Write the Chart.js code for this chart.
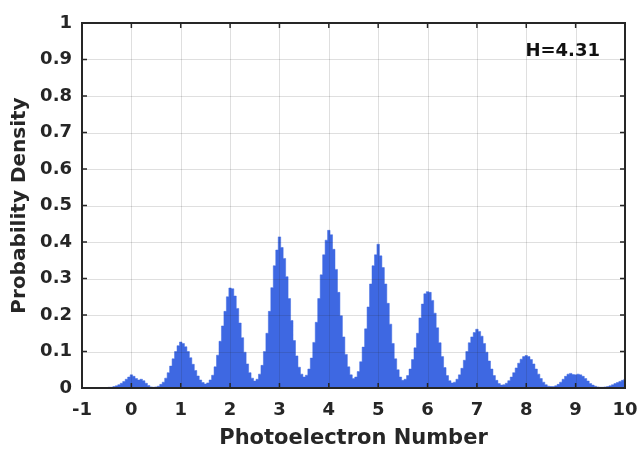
<!DOCTYPE html>
<html>
<head>
<meta charset="utf-8">
<title>Photoelectron Number</title>
<script src="https://cdn.jsdelivr.net/npm/chart.js@4.4.1/dist/chart.umd.min.js"></script>
<style>
    html, body { margin: 0; padding: 0; background: #fff; }
    #wrap { width: 638px; height: 455px; position: relative; }
</style>
</head>
<body>
<div id="wrap"><canvas id="myChart"></canvas></div>
<script>
// Histogram bins: centre of the first bin and the bin width
const binStart = -1;
const binWidth = 0.05;

// Probability density of each bin, one row per unit (n-0.5 ... n+0.45)
const density = [
    0, 0, 0, 0, 0, 0, 0, 0, 0, 0,
    0.001, 0.002, 0.002, 0.004, 0.006, 0.009, 0.013, 0.018, 0.024, 0.030,
    0.036, 0.032, 0.026, 0.022, 0.024, 0.020, 0.013, 0.007, 0.003, 0.002,
    0.003, 0.005, 0.010, 0.016, 0.027, 0.042, 0.060, 0.080, 0.100, 0.116,
    0.126, 0.122, 0.113, 0.100, 0.083, 0.065, 0.048, 0.033, 0.022, 0.015,
    0.011, 0.014, 0.022, 0.035, 0.058, 0.090, 0.128, 0.170, 0.210, 0.250,
    0.274, 0.272, 0.252, 0.218, 0.178, 0.138, 0.098, 0.066, 0.042, 0.027,
    0.019, 0.024, 0.038, 0.062, 0.100, 0.150, 0.210, 0.275, 0.335, 0.378,
    0.414, 0.385, 0.355, 0.305, 0.245, 0.185, 0.130, 0.088, 0.057, 0.038,
    0.030, 0.035, 0.052, 0.082, 0.125, 0.180, 0.245, 0.310, 0.365, 0.405,
    0.432, 0.420, 0.380, 0.325, 0.262, 0.198, 0.140, 0.092, 0.058, 0.036,
    0.026, 0.030, 0.045, 0.072, 0.112, 0.162, 0.222, 0.285, 0.335, 0.365,
    0.394, 0.362, 0.330, 0.285, 0.232, 0.175, 0.122, 0.080, 0.050, 0.030,
    0.021, 0.024, 0.034, 0.052, 0.078, 0.110, 0.150, 0.192, 0.230, 0.258,
    0.264, 0.262, 0.240, 0.205, 0.165, 0.124, 0.086, 0.056, 0.034, 0.020,
    0.014, 0.016, 0.024, 0.036, 0.054, 0.076, 0.100, 0.124, 0.140, 0.152,
    0.161, 0.155, 0.142, 0.122, 0.098, 0.074, 0.052, 0.034, 0.021, 0.012,
    0.008, 0.009, 0.013, 0.020, 0.030, 0.042, 0.055, 0.068, 0.079, 0.086,
    0.089, 0.086, 0.078, 0.066, 0.052, 0.038, 0.026, 0.016, 0.009, 0.005,
    0.004, 0.004, 0.006, 0.010, 0.016, 0.024, 0.032, 0.038, 0.040, 0.037,
    0.036, 0.038, 0.036, 0.032, 0.026, 0.019, 0.012, 0.008, 0.005, 0.003,
    0.002, 0.002, 0.003, 0.004, 0.006, 0.009, 0.012, 0.015, 0.018, 0.021,
    0.024
];

const xTicks = [-1, 0, 1, 2, 3, 4, 5, 6, 7, 8, 9, 10];
const yTicks = [0, 0.1, 0.2, 0.3, 0.4, 0.5, 0.6, 0.7, 0.8, 0.9, 1];
const xTitle = 'Photoelectron Number';
const yTitle = 'Probability Density';
const noteText = 'H=4.31';

const ink = '#262626';
const barBlue = 'rgb(62,104,226)';

Chart.defaults.font.family = '"DejaVu Sans", sans-serif';
Chart.defaults.font.weight = 'bold';
Chart.defaults.color = ink;

// MATLAB style: grid over the histogram, inward ticks, closed box, note text
const matlabAxes = {
    id: 'matlabAxes',
    afterDatasetsDraw(chart) {
        const { ctx, chartArea: a, scales: { x, y } } = chart;
        ctx.save();

        ctx.strokeStyle = 'rgba(38,38,38,0.15)';
        ctx.lineWidth = 1;
        ctx.beginPath();
        xTicks.forEach(v => {
            const px = Math.round(x.getPixelForValue(v)) + 0.5;
            ctx.moveTo(px, a.top);
            ctx.lineTo(px, a.bottom);
        });
        yTicks.forEach(v => {
            const py = Math.round(y.getPixelForValue(v)) + 0.5;
            ctx.moveTo(a.left, py);
            ctx.lineTo(a.right, py);
        });
        ctx.stroke();

        ctx.strokeStyle = ink;
        ctx.lineWidth = 1.5;
        ctx.beginPath();
        xTicks.forEach(v => {
            const px = x.getPixelForValue(v);
            ctx.moveTo(px, a.bottom);
            ctx.lineTo(px, a.bottom - 5);
            ctx.moveTo(px, a.top);
            ctx.lineTo(px, a.top + 5);
        });
        yTicks.forEach(v => {
            const py = y.getPixelForValue(v);
            ctx.moveTo(a.left, py);
            ctx.lineTo(a.left + 5, py);
            ctx.moveTo(a.right, py);
            ctx.lineTo(a.right - 5, py);
        });
        ctx.stroke();

        ctx.lineWidth = 2;
        ctx.strokeRect(a.left, a.top, a.right - a.left, a.bottom - a.top);

        ctx.fillStyle = '#111';
        ctx.font = 'bold 18px "DejaVu Sans"';
        ctx.textAlign = 'right';
        ctx.textBaseline = 'middle';
        ctx.fillText(noteText, a.right - 25, a.top + 28);
        ctx.restore();
    }
};

const ctx = document.getElementById('myChart').getContext('2d');
const myChart = new Chart(ctx, {
    type: 'line',
    data: {
        datasets: [{
            label: yTitle,
            data: density.map((v, i) => ({ x: +(binStart + i * binWidth).toFixed(2), y: v })),
            // filled stair outline = histogram bins without seams
            stepped: 'middle',
            fill: 'origin',
            backgroundColor: barBlue,
            borderColor: barBlue,
            borderWidth: 0.5,
            pointRadius: 0,
        }]
    },
    options: {
        responsive: true,
        maintainAspectRatio: false,
        animation: false,
        layout: { padding: { top: 23, right: 0, bottom: 0, left: 0 } },
        plugins: {
            legend: { display: false },
            tooltip: { enabled: false },
        },
        scales: {
            x: {
                type: 'linear',
                min: -1,
                max: 10,
                grid: { display: false, drawTicks: false },
                border: { display: false },
                afterBuildTicks: s => { s.ticks = xTicks.map(v => ({ value: v })); },
                afterFit: s => { s.height = 67; s.paddingRight = 13; },
                ticks: { padding: 12, font: { size: 18 }, maxRotation: 0 },
                title: { display: true, text: xTitle, font: { size: 21 }, padding: { top: 0, bottom: 4 } },
            },
            y: {
                min: 0,
                max: 1,
                grid: { display: false, drawTicks: false },
                border: { display: false },
                afterBuildTicks: s => { s.ticks = yTicks.map(v => ({ value: v })); },
                afterFit: s => { s.width = 82; },
                ticks: { padding: 10, font: { size: 18 }, callback: v => String(+v.toFixed(1)) },
                title: { display: true, text: yTitle, font: { size: 20 }, padding: { top: 8, bottom: 0 } },
            }
        }
    },
    plugins: [matlabAxes]
});
</script>
</body>
</html>
